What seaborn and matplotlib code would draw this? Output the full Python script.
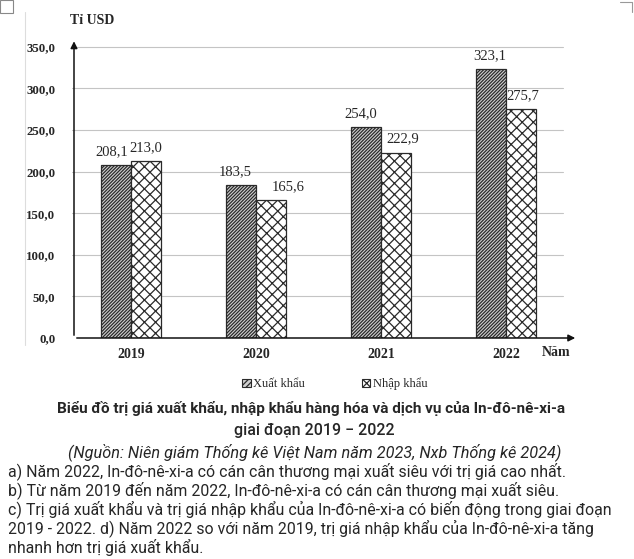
import matplotlib
matplotlib.use("Agg")
import matplotlib.pyplot as plt
import seaborn as sns
import pandas as pd
from matplotlib.patches import Patch

years = ["2019", "2020", "2021", "2022"]
export_vals = [208.1, 183.5, 254.0, 323.1]
import_vals = [213.0, 165.6, 222.9, 275.7]
series = ["Xuất khẩu", "Nhập khẩu"]
yticks = [0, 50, 100, 150, 200, 250, 300, 350]

title1 = "Biểu đồ trị giá xuất khẩu, nhập khẩu hàng hóa và dịch vụ của In-đô-nê-xi-a"
title2 = "giai đoạn 2019 − 2022"
source = "(Nguồn: Niên giám Thống kê Việt Nam năm 2023, Nxb Thống kê 2024)"
questions = [
    "a) Năm 2022, In-đô-nê-xi-a có cán cân thương mại xuất siêu với trị giá cao nhất.",
    "b) Từ năm 2019 đến năm 2022, In-đô-nê-xi-a có cán cân thương mại xuất siêu.",
    "c) Trị giá xuất khẩu và trị giá nhập khẩu của In-đô-nê-xi-a có biến động trong giai đoạn",
    "2019 - 2022. d) Năm 2022 so với năm 2019, trị giá nhập khẩu của In-đô-nê-xi-a tăng",
    "nhanh hơn trị giá xuất khẩu.",
]

df = pd.DataFrame({
    "year": years * 2,
    "type": [series[0]] * 4 + [series[1]] * 4,
    "value": export_vals + import_vals,
})

sns.set_theme(style="white")
plt.rcParams["hatch.linewidth"] = 0.9
serif = ["Liberation Serif", "DejaVu Serif"]
sans = ["Roboto", "DejaVu Sans"]

fig = plt.figure(figsize=(6.34, 5.59), dpi=100)
ax = fig.add_axes([74 / 634, 1 - 338 / 559, (578 - 74) / 634, (338 - 38.5) / 559])

sns.barplot(data=df, x="year", y="value", hue="type", order=years,
            hue_order=series, palette=["#d0d0d0", "white"], width=0.48,
            edgecolor="#222222", linewidth=0.9, ax=ax, legend=False,
            saturation=1)

hatches = ["//////////", "xxx"]
for cont, h in zip(ax.containers, hatches):
    for bar in cont:
        bar.set_hatch(h)
        bar.set_edgecolor("#2a2a2a")

# value labels
x_off = [[-3, 0], [-4, 12], [-4, 5], [-1, 1]]
for si, cont in enumerate(ax.containers):
    vals = export_vals if si == 0 else import_vals
    for i, bar in enumerate(cont):
        txt = f"{vals[i]:.1f}".replace(".", ",")
        ax.annotate(txt, (bar.get_x() + bar.get_width() / 2, bar.get_height()),
                    xytext=(x_off[i][si], 5), textcoords="offset points",
                    ha="center", va="bottom", fontsize=10.5, family=serif)

ax.set_xlim(-0.456, 3.576)
ax.set_ylim(0, 360)
ax.set_yticks(yticks)
ax.set_yticklabels([f"{v:.1f}".replace(".", ",") for v in yticks],
                   family=serif, fontsize=9.3, fontweight="bold")
ax.set_xticks(range(4))
ax.set_xticklabels(years, family=serif, fontsize=10, fontweight="bold")
ax.tick_params(axis="y", pad=13.5, length=0)
ax.tick_params(axis="x", pad=7, length=0)
ax.set_xlabel("")
ax.set_ylabel("")
for s in ax.spines.values():
    s.set_visible(False)
ax.grid(False)
for v in yticks[1:]:
    ax.axhline(v, xmin=-0.004, xmax=0.97, color="#c4c4c4", lw=0.8, zorder=0, clip_on=False)
ax.set_axisbelow(True)

# axis arrows
ax.annotate("", xy=(0, 1.0), xycoords="axes fraction", xytext=(0, 0),
            textcoords="axes fraction",
            arrowprops=dict(arrowstyle="-|>", color="#111111", lw=1.1, mutation_scale=10))
ax.annotate("", xy=(1.0, 0), xycoords="axes fraction", xytext=(0, 0),
            textcoords="axes fraction",
            arrowprops=dict(arrowstyle="-|>", color="#111111", lw=1.1, mutation_scale=10))

fig.text(70 / 634, 1 - 21 / 559, "Tỉ USD", family=serif, fontsize=10,
         fontweight="bold", ha="left", va="center")
fig.text(556 / 634, 1 - 353 / 559, "Năm", family=serif, fontsize=10,
         fontweight="bold", ha="center", va="center")

handles = [Patch(facecolor=fc, edgecolor="#2a2a2a", hatch=h, lw=0.8)
           for fc, h in zip(["#d0d0d0", "white"], ["//////", "xx"])]
fig.legend(handles, series, loc="center", bbox_to_anchor=(0.528, 1 - 384 / 559),
           ncol=2, frameon=False, prop={"family": serif, "size": 9},
           handlelength=0.7, handleheight=0.7, handletextpad=0.2, columnspacing=4.5)

fig.text(311.5 / 634, 1 - 409 / 559, title1, family=sans, fontsize=11, fontweight="bold",
         ha="center", va="center")
fig.text(314 / 634, 1 - 430 / 559, title2, family=sans, fontsize=11.5, fontweight="medium",
         ha="center", va="center")
fig.text(315 / 634, 1 - 452 / 559, source, family=sans, fontsize=11.7, style="italic",
         ha="center", va="center")
for k, q in enumerate(questions):
    fig.text(8 / 634, 1 - (471 + 19 * k) / 559, q, family=sans, fontsize=11.45,
             ha="left", va="center")

# scan decorations
fig.add_artist(plt.Line2D([25 / 634, 25 / 634], [1 - 12 / 559, 1 - 345 / 559],
                          color="#dddddd", lw=0.8))
fig.add_artist(plt.Rectangle((0, 1 - 13 / 559), 13 / 634, 13 / 559, fill=False,
                             edgecolor="#888888", lw=0.8))
fig.add_artist(plt.Line2D([620 / 634, 632 / 634, 632 / 634],
                          [1 - 2 / 559, 1 - 2 / 559, 1 - 12 / 559],
                          color="#999999", lw=0.8))

fig.savefig("out.png", dpi=100)
